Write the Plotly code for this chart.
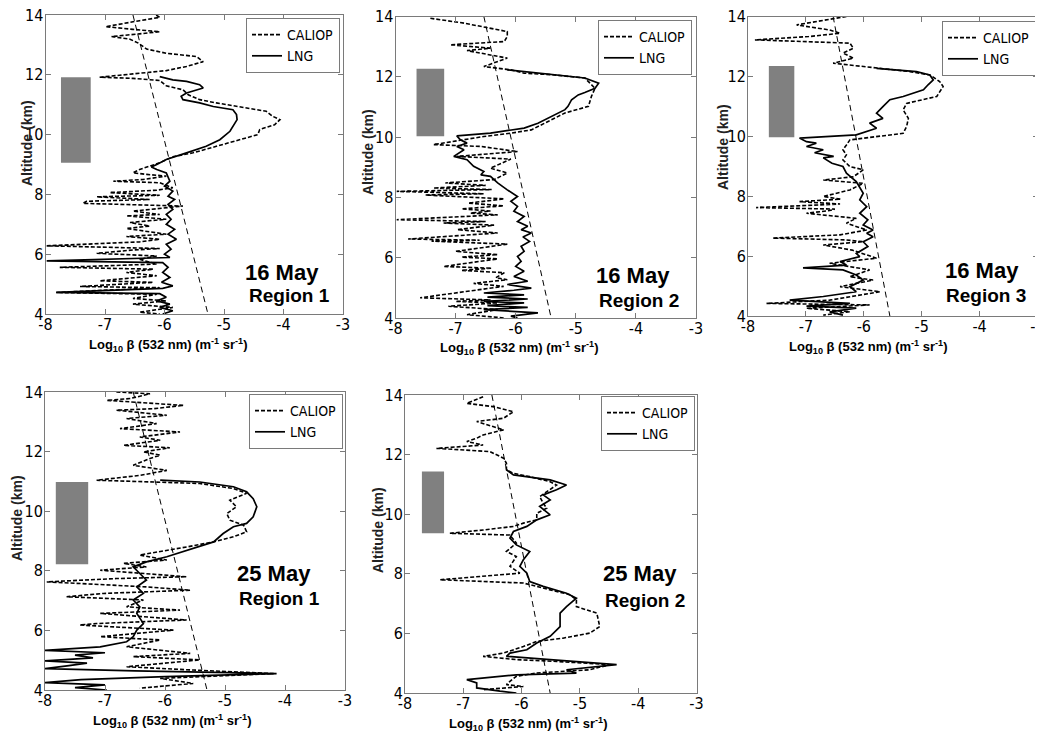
import plotly.graph_objects as go

# The page body has an 8 px margin, so the figure is made 8 px smaller and all
# pixel positions below (measured on the 1043x735 reference) are shifted by it.
PAGE_OFF = 8
W, H = 1043 - PAGE_OFF, 735 - PAGE_OFF

# ---------------- DATA ----------------
x_tickvals = [-8, -7, -6, -5, -4, -3]
x_ticktext = ["-8", "-7", "-6", "-5", "-4", "-3"]
y_tickvals = [4, 6, 8, 10, 12, 14]
y_ticktext = ["4", "6", "8", "10", "12", "14"]

dates = ["16 May", "16 May", "16 May", "25 May", "25 May"]
regions = ["Region 1", "Region 2", "Region 3", "Region 1", "Region 2"]

# (log10 beta, altitude km)
p1_caliop = [(-6.14,14.0),(-6.08,13.92),(-6.42,13.81),(-6.99,13.61),(-6.53,13.52),(-6.08,13.44),(-6.42,13.37),
 (-6.89,13.28),(-6.58,13.19),(-6.44,13.06),(-6.30,12.86),(-5.97,12.72),(-5.46,12.61),(-5.35,12.44),(-5.63,12.28),
 (-5.97,12.14),(-6.53,12.03),(-7.09,11.92),(-6.53,11.88),(-6.08,11.81),(-5.97,11.63),(-5.69,11.5),(-5.60,11.33),
 (-5.41,11.17),(-5.13,11.06),(-4.68,10.92),(-4.29,10.78),(-4.18,10.61),(-4.06,10.5),(-4.15,10.33),(-4.40,10.17),
 (-4.43,10.0),(-4.74,9.83),(-5.13,9.61),(-5.52,9.39),(-5.86,9.26),(-6.08,9.06),(-6.42,8.83),(-6.53,8.72),(-6.30,8.67),
 (-5.97,8.61),(-6.36,8.5),(-6.86,8.44),(-6.08,8.39),(-5.86,8.22),(-6.13,8.14),(-6.92,8.06),(-6.08,7.97),(-7.14,7.92),
 (-6.25,7.83),(-7.31,7.77),(-7.37,7.7),(-5.69,7.61),(-6.53,7.44),(-6.08,7.33),(-6.64,7.28),(-5.97,7.17),(-6.58,7.06),
 (-6.25,6.94),(-6.64,6.86),(-5.97,6.67),(-6.64,6.59),(-6.08,6.5),(-6.42,6.41),(-7.98,6.28),(-6.08,6.19),(-6.53,6.14),
 (-7.14,6.03),(-6.13,5.94),(-6.42,5.83),(-6.13,5.67),(-7.76,5.56),(-6.19,5.5),(-6.64,5.39),(-6.13,5.28),(-7.09,5.11),
 (-6.19,5.06),(-7.42,4.92),(-6.08,4.88),(-7.82,4.72),(-6.13,4.66),(-6.53,4.52),(-5.97,4.44),(-6.53,4.33),(-5.86,4.22),
 (-6.42,4.06),(-6.08,4.0)]
p1_lng = [(-6.08,11.94),(-5.86,11.83),(-5.63,11.78),(-5.41,11.67),(-5.35,11.56),(-5.63,11.39),(-5.72,11.28),(-5.69,11.17),
 (-5.41,11.06),(-5.18,10.94),(-4.85,10.83),(-4.79,10.67),(-4.78,10.5),(-4.85,10.28),(-4.90,10.11),(-5.07,9.83),(-5.30,9.61),
 (-5.63,9.39),(-5.97,9.17),(-6.13,9.0),(-6.22,8.92),(-6.13,8.83),(-5.97,8.72),(-5.91,8.44),(-6.0,8.28),(-5.86,8.11),
 (-5.94,7.94),(-5.83,7.83),(-5.94,7.67),(-5.86,7.5),(-5.97,7.33),(-5.89,7.17),(-5.97,7.0),(-5.83,6.83),(-5.94,6.67),
 (-5.80,6.5),(-5.97,6.33),(-5.89,6.17),(-6.0,6.0),(-5.91,5.89),(-7.98,5.78),(-6.03,5.72),(-5.94,5.56),(-6.03,5.39),
 (-5.91,5.22),(-6.05,5.06),(-5.86,4.94),(-6.03,4.86),(-7.82,4.72),(-6.08,4.68),(-5.97,4.56),(-6.13,4.44),(-5.91,4.33),
 (-6.08,4.22),(-5.86,4.11),(-6.03,4.0)]

p2_caliop = [(-7.42,13.94),(-6.86,13.78),(-6.14,13.5),(-6.14,13.34),(-6.19,13.17),(-7.09,13.06),(-6.42,12.95),(-6.81,12.87),
 (-6.14,12.62),(-6.53,12.34),(-6.08,12.23),(-5.86,12.12),(-5.41,12.07),(-4.85,11.96),(-4.68,11.62),(-4.74,11.35),(-4.79,11.02),
 (-5.18,10.8),(-5.41,10.57),(-5.74,10.24),(-6.08,10.13),(-6.53,10.02),(-7.37,9.75),(-6.58,9.69),(-5.97,9.52),(-6.98,9.36),
 (-6.08,9.27),(-6.42,8.97),(-6.14,8.81),(-6.36,8.59),(-7.17,8.48),(-6.5,8.4),(-7.37,8.31),(-6.4,8.26),(-7.98,8.2),(-6.53,8.12),
 (-7.5,8.08),(-6.19,7.95),(-6.79,7.81),(-6.2,7.72),(-6.9,7.62),(-6.42,7.55),(-6.75,7.48),(-6.3,7.42),(-7.98,7.26),(-6.5,7.2),
 (-7.2,7.15),(-6.36,7.08),(-6.97,6.93),(-6.30,6.82),(-7.79,6.62),(-6.6,6.58),(-7.4,6.55),(-6.14,6.45),(-7.0,6.21),(-6.3,6.1),
 (-6.9,6.02),(-6.30,5.96),(-7.2,5.71),(-6.4,5.65),(-6.9,5.58),(-6.19,5.5),(-6.33,5.34),(-6.14,5.27),(-6.7,5.15),(-6.2,5.05),
 (-7.59,4.67),(-6.42,4.6),(-7.0,4.55),(-6.3,4.5),(-7.12,4.39),(-6.30,4.28),(-6.81,4.11),(-6.19,4.0)]
p2_lng = [(-6.14,12.23),(-5.41,12.07),(-4.85,11.96),(-4.62,11.79),(-4.68,11.62),(-4.85,11.48),(-4.96,11.4),(-5.07,11.24),
 (-5.13,11.02),(-5.18,10.91),(-5.41,10.69),(-5.63,10.46),(-5.86,10.3),(-6.42,10.13),(-6.98,10.04),(-6.92,9.91),(-6.81,9.8),
 (-6.98,9.69),(-6.86,9.58),(-7.03,9.36),(-6.81,9.25),(-6.70,9.03),(-6.53,8.86),(-6.58,8.75),(-6.42,8.7),(-6.30,8.48),
 (-6.14,8.25),(-5.97,8.03),(-6.08,7.87),(-5.97,7.7),(-6.03,7.54),(-5.86,7.37),(-5.97,7.2),(-5.80,7.04),(-5.91,6.93),
 (-5.74,6.82),(-5.88,6.69),(-5.77,6.54),(-5.91,6.38),(-5.86,6.21),(-5.97,6.04),(-5.91,5.88),(-6.0,5.71),(-5.86,5.55),
 (-6.03,5.38),(-5.80,5.22),(-6.14,5.11),(-5.74,4.99),(-6.03,4.92),(-6.53,4.83),(-5.86,4.77),(-6.47,4.69),(-5.80,4.63),
 (-6.53,4.55),(-5.86,4.5),(-6.47,4.41),(-5.80,4.35),(-6.53,4.28),(-5.63,4.17),(-6.08,4.06),(-5.97,4.0)]

p3_caliop = [(-6.30,14.0),(-6.70,13.87),(-7.16,13.72),(-6.59,13.55),(-6.41,13.44),(-6.95,13.33),(-7.88,13.22),(-6.24,13.11),
 (-6.18,12.94),(-6.36,12.78),(-6.18,12.61),(-6.53,12.44),(-5.78,12.27),(-5.20,12.16),(-4.86,12.05),(-4.69,11.83),(-4.63,11.66),
 (-4.74,11.33),(-5.26,11.1),(-5.32,10.88),(-5.23,10.6),(-5.26,10.33),(-5.32,10.1),(-5.78,9.99),(-6.24,9.88),(-6.30,9.71),
 (-6.36,9.55),(-6.30,9.38),(-6.36,9.21),(-6.24,8.99),(-6.01,8.88),(-6.18,8.65),(-6.70,8.54),(-6.01,8.43),(-6.24,8.21),
 (-6.70,7.99),(-6.4,7.9),(-7.11,7.82),(-6.41,7.74),(-7.86,7.62),(-6.5,7.57),(-6.59,7.52),(-6.99,7.43),(-6.13,7.26),(-6.3,7.1),
 (-5.95,6.87),(-6.41,6.71),(-7.57,6.6),(-6.3,6.54),(-6.01,6.48),(-6.70,6.37),(-6.2,6.2),(-5.78,5.93),(-6.59,5.76),(-5.90,5.54),
 (-6.24,5.31),(-5.84,5.2),(-6.41,4.98),(-5.72,4.81),(-6.59,4.53),(-7.68,4.42),(-5.90,4.37),(-6.99,4.26),(-6.24,4.14),(-6.70,4.03)]
p3_lng = [(-5.78,12.27),(-5.09,12.16),(-4.86,12.05),(-4.80,11.88),(-4.89,11.72),(-4.97,11.55),(-5.32,11.33),(-5.55,11.22),
 (-5.67,10.99),(-5.78,10.77),(-5.67,10.6),(-5.90,10.44),(-5.78,10.27),(-5.95,10.16),(-6.13,10.05),(-7.11,9.94),(-6.99,9.82),
 (-6.82,9.77),(-6.99,9.66),(-6.70,9.55),(-6.85,9.45),(-6.52,9.33),(-6.70,9.28),(-6.55,9.1),(-6.36,8.99),(-6.30,8.77),
 (-6.13,8.49),(-6.01,8.1),(-6.07,7.88),(-5.95,7.65),(-6.07,7.43),(-5.93,7.21),(-6.01,7.04),(-5.84,6.87),(-5.95,6.76),
 (-5.84,6.65),(-6.01,6.48),(-5.93,6.32),(-6.13,6.09),(-6.07,5.98),(-6.41,5.82),(-6.30,5.7),(-7.05,5.61),(-6.36,5.54),
 (-6.13,5.37),(-6.01,5.2),(-6.24,4.98),(-6.13,4.81),(-6.70,4.65),(-7.28,4.53),(-6.24,4.42),(-6.99,4.33),(-6.13,4.26),
 (-6.59,4.14),(-6.36,4.03)]

p4_caliop = [(-6.81,14.0),(-6.25,13.94),(-6.58,13.78),(-6.97,13.72),(-5.69,13.55),(-6.19,13.44),(-6.81,13.39),(-5.97,13.22),
 (-6.64,13.11),(-6.14,12.94),(-6.75,12.77),(-5.75,12.66),(-6.42,12.49),(-6.08,12.38),(-6.69,12.21),(-5.92,12.13),(-6.36,11.99),
 (-6.08,11.88),(-6.25,11.77),(-6.53,11.54),(-5.97,11.37),(-6.42,11.2),(-7.14,11.04),(-6.08,10.98),(-5.42,10.93),(-4.86,10.76),
 (-4.64,10.6),(-4.92,10.37),(-4.81,10.15),(-4.97,9.92),(-4.92,9.7),(-4.69,9.53),(-4.64,9.31),(-4.86,9.14),(-5.19,8.97),
 (-5.64,8.8),(-6.08,8.64),(-6.42,8.53),(-5.97,8.36),(-6.69,8.25),(-6.31,8.13),(-7.08,8.02),(-5.64,7.8),(-6.81,7.74),
 (-7.97,7.63),(-6.31,7.46),(-5.58,7.35),(-7.03,7.24),(-7.64,7.13),(-6.36,7.02),(-6.64,6.79),(-5.75,6.68),(-7.08,6.57),
 (-5.64,6.35),(-7.14,6.23),(-7.42,6.18),(-5.86,6.01),(-7.08,5.79),(-6.08,5.68),(-6.64,5.45),(-5.58,5.23),(-6.53,5.12),
 (-5.42,5.01),(-6.64,4.78),(-5.53,4.67),(-4.19,4.55),(-6.08,4.39),(-5.53,4.22),(-6.42,4.06)]
p4_lng = [(-6.08,11.04),(-5.42,10.98),(-4.86,10.82),(-4.64,10.65),(-4.53,10.42),(-4.47,10.15),(-4.53,9.81),(-4.64,9.59),
 (-4.86,9.48),(-5.03,9.25),(-5.19,8.97),(-5.53,8.75),(-5.97,8.47),(-6.31,8.3),(-6.53,8.13),(-6.42,7.91),(-6.31,7.69),
 (-6.47,7.46),(-6.36,7.24),(-6.53,7.02),(-6.42,6.79),(-6.47,6.57),(-6.36,6.23),(-6.47,6.01),(-6.53,5.79),(-6.64,5.62),
 (-7.08,5.45),(-8.0,5.33),(-7.0,5.25),(-7.5,5.17),(-7.2,5.08),(-8.0,4.98),(-7.3,4.9),(-7.6,4.82),(-8.0,4.72),(-6.5,4.64),
 (-4.14,4.55),(-6.0,4.45),(-7.4,4.35),(-8.0,4.25),(-7.0,4.17),(-7.5,4.08),(-6.97,4.0)]

p5_caliop = [(-6.66,13.94),(-6.94,13.72),(-6.49,13.61),(-6.14,13.44),(-6.31,13.22),(-6.77,13.11),(-6.49,12.94),(-6.31,12.83),
 (-6.66,12.66),(-6.77,12.55),(-6.94,12.44),(-6.66,12.32),(-7.46,12.21),(-6.54,12.1),(-6.31,11.88),(-6.26,11.71),(-6.26,11.49),
 (-6.14,11.37),(-5.86,11.26),(-5.51,11.09),(-5.40,10.98),(-5.57,10.76),(-5.69,10.59),(-5.63,10.37),(-5.57,10.2),(-5.74,10.03),
 (-5.74,9.81),(-5.97,9.7),(-6.14,9.59),(-6.66,9.47),(-7.23,9.36),(-6.2,9.3),(-6.09,9.03),(-6.26,8.75),(-6.09,8.58),(-6.2,8.25),
 (-6.03,8.02),(-7.40,7.8),(-5.97,7.69),(-5.51,7.46),(-5.17,7.3),(-5.06,7.13),(-5.06,6.9),(-4.71,6.68),(-4.66,6.23),(-4.83,6.01),
 (-5.29,5.84),(-5.74,5.73),(-5.97,5.56),(-6.31,5.34),(-6.66,5.23),(-6.09,5.12),(-5.40,5.06),(-4.49,4.95),(-4.83,4.78),
 (-5.74,4.67),(-6.09,4.56),(-6.2,4.39),(-6.26,4.28),(-5.97,4.22),(-6.31,4.17),(-6.66,4.11)]
p5_lng = [(-6.26,11.49),(-6.14,11.32),(-5.51,11.15),(-5.23,10.98),(-5.40,10.82),(-5.63,10.65),(-5.51,10.48),(-5.69,10.26),
 (-5.51,9.98),(-5.74,9.81),(-5.91,9.59),(-6.14,9.42),(-6.2,9.2),(-6.09,8.97),(-5.86,8.75),(-5.97,8.47),(-6.03,8.25),
 (-5.91,8.02),(-5.86,7.74),(-5.63,7.58),(-5.23,7.35),(-5.06,7.18),(-5.23,6.9),(-5.34,6.68),(-5.34,6.23),(-5.51,5.9),
 (-5.74,5.68),(-5.91,5.45),(-6.2,5.34),(-6.26,5.23),(-5.51,5.12),(-4.37,4.95),(-5.23,4.78),(-5.06,4.67),(-6.09,4.61),
 (-6.94,4.45),(-6.77,4.34),(-6.77,4.17),(-6.37,4.06),(-6.09,4.0)]

# molecular reference line end points: (beta at 14 km, beta at 4 km)
ref_beta_top = [-6.53, -6.53, -6.53, -6.53, -6.51]
ref_beta_bottom = [-5.27, -5.41, -5.55, -5.30, -5.51]
ref_alt = [14, 4]

# cloud layer (top, base) altitude in km, shown as grey bar
cloud_top = [11.92, 12.27, 12.35, 10.98, 11.43]
cloud_base = [9.06, 10.03, 9.97, 8.22, 9.36]

caliop_sets = [p1_caliop, p2_caliop, p3_caliop, p4_caliop, p5_caliop]
lng_sets = [p1_lng, p2_lng, p3_lng, p4_lng, p5_lng]

# ---------------- LAYOUT (pixels in the 1043x735 screenshot) ----------------
plot_px = [  # x0, x1, y0(top), y1(bottom)
    (45.5, 343, 15, 314),
    (395.5, 696, 16.5, 318),
    (748, 1037.5, 16.5, 316),
    (45, 345, 392, 690),
    (405, 696.5, 395, 693),
]
bar_x = [(-7.74, -7.24), (-7.65, -7.19), (-7.64, -7.20), (-7.82, -7.28), (-7.71, -7.33)]
legend_px = [(340, 18), (692, 20), (1036, 21), (343, 394), (695, 396)]
date_px = [(282, 272), (633, 275), (982, 270), (274, 573), (640, 573)]
region_px = [(289, 296), (639, 300), (986, 295), (279, 598), (645, 600)]
xtitle_px = [(168, 345), (519, 348), (868, 347), (172, 721), (528, 724)]
ytitle_px = [(27, 143), (368, 152), (723, 147), (17, 518), (378, 530)]


def fx(px):
    return (px - PAGE_OFF) / W


def fy(py):
    return 1 - (py - PAGE_OFF) / H


NARROW = "DejaVu Sans Condensed, Liberation Sans Narrow, Arial Narrow, Liberation Sans, Arial, sans-serif"
SANS = "Liberation Sans, Arial, sans-serif"
FRAME = "#7a7a7a"

fig = go.Figure()
layout = dict(template="none", width=W, height=H, margin=dict(l=0, r=0, t=0, b=0, pad=0),
              autosize=False,
              paper_bgcolor="white", plot_bgcolor="white", showlegend=True,
              font=dict(family=SANS, color="black"),
              annotations=[], shapes=[])

for i in range(5):
    n = "" if i == 0 else str(i + 1)
    xa, ya = "x" + n, "y" + n
    lg = "legend" + n
    x0, x1, y0, y1 = plot_px[i]
    axis_common = dict(showline=True, linecolor=FRAME, linewidth=1, mirror="ticks",
                       ticks="inside", ticklen=5, tickcolor=FRAME, tickwidth=1,
                       showgrid=False, zeroline=False, automargin=False,
                       ticklabeloverflow="allow",
                       tickfont=dict(family=NARROW, size=16, color="black"))
    layout["xaxis" + n] = dict(axis_common, domain=[fx(x0), fx(x1)], range=[-8, -3],
                               tickvals=x_tickvals, ticktext=x_ticktext, anchor=ya,
                               ticklabelstandoff=-4)
    layout["yaxis" + n] = dict(axis_common, domain=[fy(y1), fy(y0)], range=[4, 14],
                               tickvals=y_tickvals, ticktext=y_ticktext, anchor=xa,
                               ticklabelstandoff=-2)

    cx, ca = zip(*caliop_sets[i])
    lx, la = zip(*lng_sets[i])
    fig.add_trace(go.Scatter(x=[ref_beta_top[i], ref_beta_bottom[i]], y=ref_alt, mode="lines",
                             line=dict(color="black", width=1, dash="6px,4px"),
                             xaxis=xa, yaxis=ya, showlegend=False, hoverinfo="skip"))
    fig.add_trace(go.Scatter(x=cx, y=ca, mode="lines", name="CALIOP",
                             line=dict(color="black", width=1.6, dash="4px,2px"),
                             xaxis=xa, yaxis=ya, legend=lg))
    fig.add_trace(go.Scatter(x=lx, y=la, mode="lines", name="LNG",
                             line=dict(color="black", width=1.7),
                             xaxis=xa, yaxis=ya, legend=lg))

    layout["shapes"].append(dict(type="rect", xref=xa, yref=ya,
                                 x0=bar_x[i][0], x1=bar_x[i][1],
                                 y0=cloud_base[i], y1=cloud_top[i],
                                 fillcolor="#808080", line=dict(width=0), layer="below"))

    lxp, lyp = legend_px[i]
    layout[lg] = dict(x=fx(lxp), y=fy(lyp), xanchor="right", yanchor="top",
                      xref="paper", yref="paper",
                      bgcolor="white", bordercolor=FRAME, borderwidth=1,
                      font=dict(family=NARROW, size=14, color="black"),
                      itemwidth=30, tracegroupgap=0)

    dx, dy = date_px[i]
    layout["annotations"].append(dict(text="<b>%s</b>" % dates[i], x=fx(dx), y=fy(dy),
                                      xref="paper", yref="paper", showarrow=False,
                                      xanchor="center", yanchor="middle",
                                      font=dict(family=SANS, size=22, color="black")))
    rx, ry = region_px[i]
    layout["annotations"].append(dict(text="<b>%s</b>" % regions[i], x=fx(rx), y=fy(ry),
                                      xref="paper", yref="paper", showarrow=False,
                                      xanchor="center", yanchor="middle",
                                      font=dict(family=SANS, size=19, color="black")))
    tx, ty = xtitle_px[i]
    layout["annotations"].append(dict(
        text="<b>Log<sub>10</sub> β (532 nm) (m<sup>-1</sup> sr<sup>-1</sup>)</b>",
        x=fx(tx), y=fy(ty), xref="paper", yref="paper", showarrow=False,
        xanchor="center", yanchor="middle",
        font=dict(family=SANS, size=13, color="black")))
    yx, yy = ytitle_px[i]
    layout["annotations"].append(dict(
        text="<b>Altitude (km)</b>", x=fx(yx), y=fy(yy), xref="paper", yref="paper",
        showarrow=False, textangle=-90, xanchor="center", yanchor="middle",
        font=dict(family=SANS, size=14, color="#222222")))

fig.update_layout(**layout)
fig.write_html("out.html")
